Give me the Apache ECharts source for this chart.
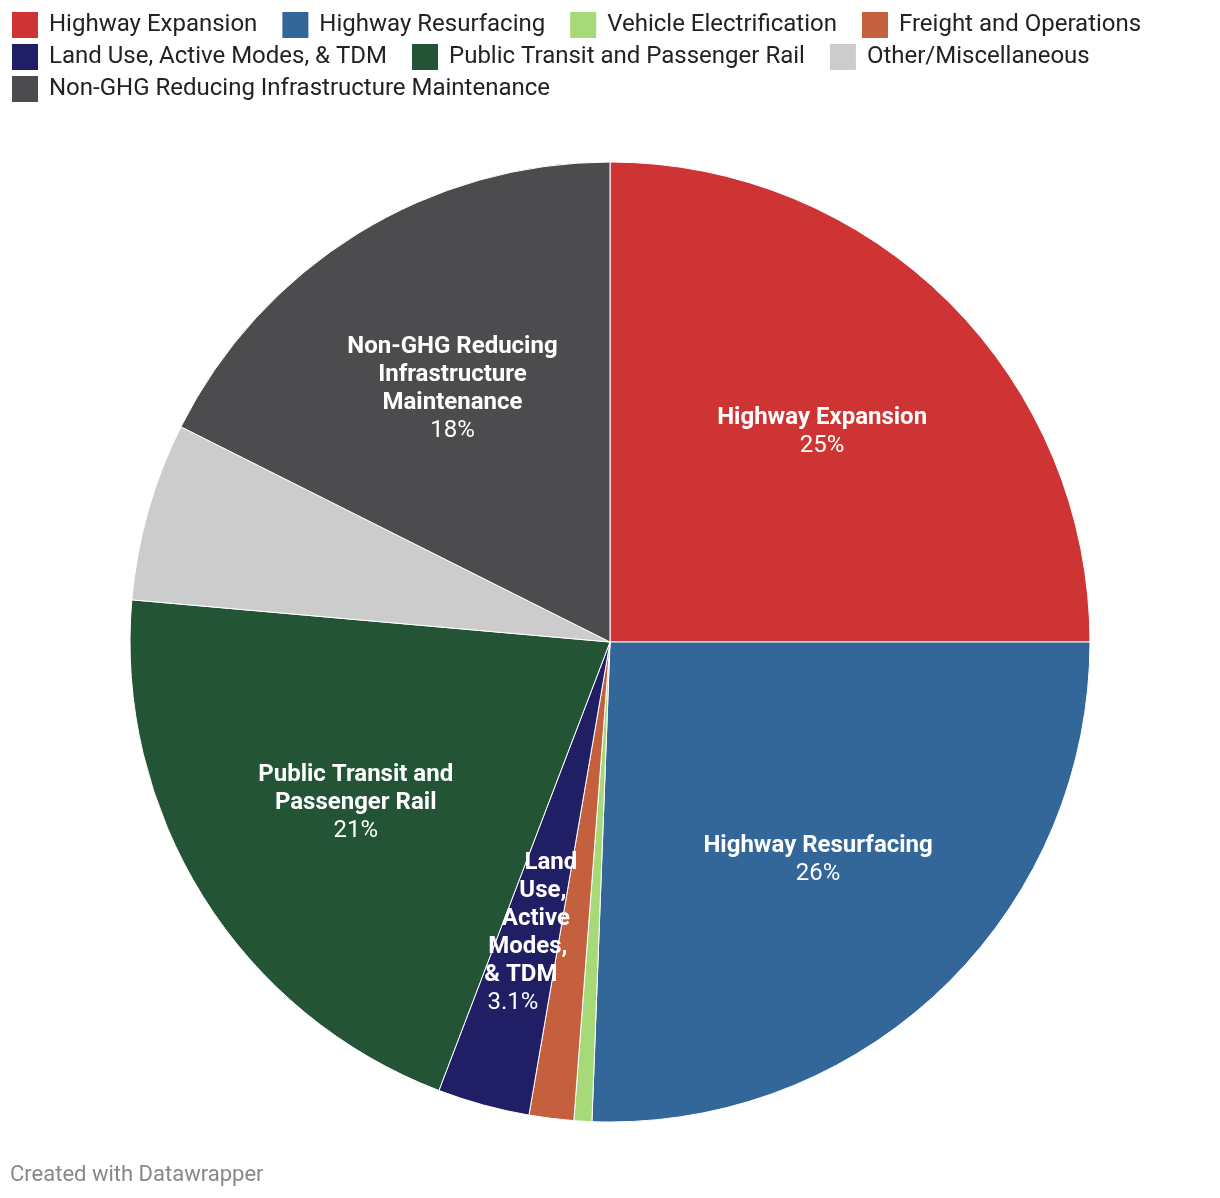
<!DOCTYPE html>
<html>
<head>
<meta charset="utf-8">
<script src="https://cdn.jsdelivr.net/npm/echarts@6/dist/echarts.min.js"></script>
<style>
html,body{margin:0;padding:0;background:#fff;}
#chart{width:1220px;height:1198px;}
</style>
</head>
<body>
<div id="chart"></div>
<script>
var categories = [
  'Highway Expansion',
  'Highway Resurfacing',
  'Vehicle Electrification',
  'Freight and Operations',
  'Land Use, Active Modes, & TDM',
  'Public Transit and Passenger Rail',
  'Other/Miscellaneous',
  'Non-GHG Reducing Infrastructure Maintenance'
];
var shares = [25.0, 25.6, 0.6, 1.5, 3.1, 20.6, 6.0, 17.6];
var colors = ['#cf3434', '#336699', '#a6d977', '#c4603d', '#201e64', '#225435', '#cccccc', '#4c4c4e'];
var labelNames = [
  ['Highway Expansion'],
  ['Highway Resurfacing'],
  null,
  null,
  ['Land', 'Use,', 'Active', 'Modes,', '& TDM'],
  ['Public Transit and', 'Passenger Rail'],
  null,
  ['Non-GHG Reducing', 'Infrastructure', 'Maintenance']
];
var legendRows = [
  categories.slice(0, 4),
  categories.slice(4, 7),
  categories.slice(7, 8)
];

var FONT = 'Roboto, "Noto Sans", sans-serif';
var LABEL_SIZE = 24;
var LEGEND_SIZE = 24;

// per-line horizontal shift for the narrow Land Use label (px)
var luShift = [20, 12, 5, -3, -10, -18];

var rich = {
  b: {fontFamily: FONT, fontWeight: 'bold', fontSize: LABEL_SIZE, color: '#fff', lineHeight: 28, align: 'center'},
  p: {fontFamily: FONT, fontWeight: 'normal', fontSize: LABEL_SIZE, color: '#fff', lineHeight: 28, align: 'center'}
};
luShift.forEach(function (d, i) {
  var pad = d >= 0 ? [0, 0, 0, 2 * d] : [0, -2 * d, 0, 0];
  rich['lb' + i] = Object.assign({}, rich.b, {padding: pad});
  rich['lp' + i] = Object.assign({}, rich.p, {padding: pad});
});

function pctText(v) {
  return v < 10 ? v.toFixed(1) + '%' : Math.round(v) + '%';
}

var total = shares.reduce(function (a, b) { return a + b; }, 0);

var baseData = categories.map(function (c, i) {
  return {name: c, value: shares[i], itemStyle: {color: colors[i]}};
});
var labelData = categories.map(function (c, i) {
  return {
    name: c, value: shares[i],
    itemStyle: {color: 'rgba(0,0,0,0)', borderWidth: 0},
    label: {show: !!labelNames[i]}
  };
});

var legends = legendRows.map(function (row, r) {
  return {
    left: 10, top: 10 + r * 32,
    padding: 0,
    orient: 'horizontal',
    itemWidth: 28, itemHeight: 28, itemGap: 23,
    icon: 'rect',
    selectedMode: false,
    textStyle: {fontFamily: FONT, fontSize: LEGEND_SIZE, color: '#222', padding: [0, 0, 0, 5]},
    data: row.map(function (n) {
      return {name: n, icon: 'rect', itemStyle: {color: colors[categories.indexOf(n)]}};
    })
  };
});

var chart = echarts.init(document.getElementById('chart'), null, {renderer: 'canvas'});
chart.setOption({
  animation: false,
  backgroundColor: '#fff',
  title: {
    text: 'Created with Datawrapper',
    left: 10, top: 1164,
    padding: 0,
    textStyle: {fontFamily: FONT, fontSize: 22, fontWeight: 'normal', color: '#888'}
  },
  legend: legends,
  series: [
    {
      type: 'pie',
      center: [610, 642],
      radius: [0, 480],
      startAngle: 90,
      clockwise: true,
      avoidLabelOverlap: false,
      silent: true,
      label: {show: false},
      labelLine: {show: false},
      itemStyle: {borderColor: '#fff', borderWidth: 1},
      data: baseData
    },
    {
      type: 'pie',
      center: [610, 644],
      radius: [114, 480],
      startAngle: 90,
      clockwise: true,
      avoidLabelOverlap: false,
      silent: true,
      labelLine: {show: false},
      label: {
        show: true,
        position: 'inside',
        align: 'center',
        rich: rich,
        formatter: function (p) {
          var lines = labelNames[p.dataIndex];
          if (!lines) return '';
          var pct = pctText(p.value / total * 100);
          if (p.dataIndex === 4) {
            var out = lines.map(function (l, k) { return '{lb' + k + '|' + l + '}'; });
            out.push('{lp' + lines.length + '|' + pct + '}');
            return out.join('\n');
          }
          var o = lines.map(function (l) { return '{b|' + l + '}'; });
          o.push('{p|' + pct + '}');
          return o.join('\n');
        }
      },
      data: labelData
    }
  ]
});
</script>
</body>
</html>
